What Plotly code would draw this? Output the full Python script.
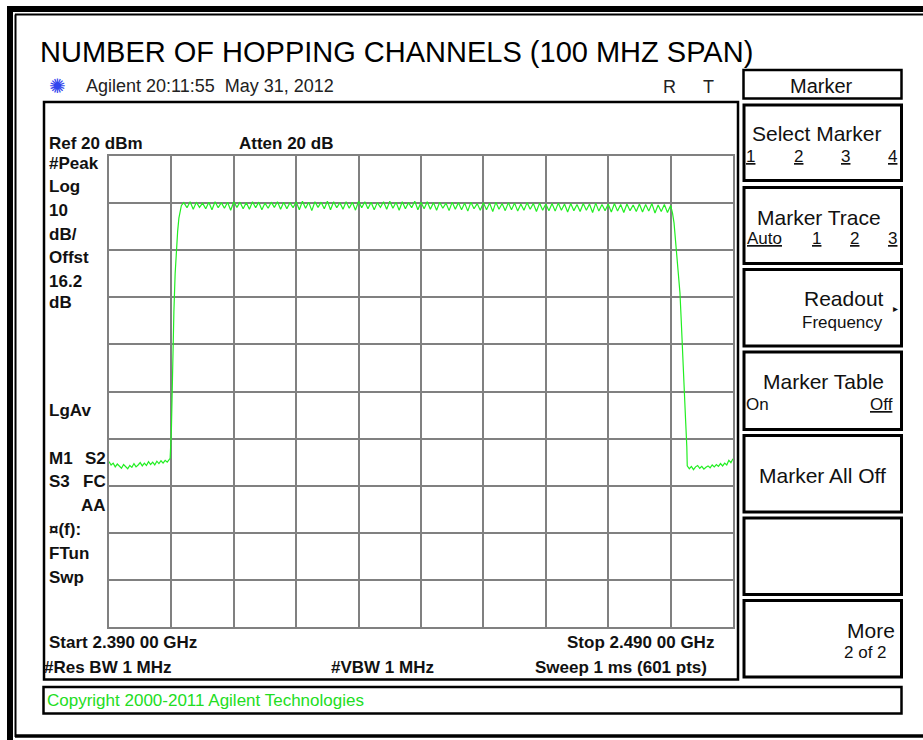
import plotly.graph_objects as go

# ---------------- data ----------------
sweep_start_mhz = 2390.0
sweep_stop_mhz = 2490.0
sweep_points = 601
ref_level_dbm = 20
db_per_div = 10

# noise floor left of the band (every 2nd sweep point, starting at point 0)
noise_left_dbm = [-44.9, -45.6, -45.2, -46.0, -45.4, -45.8, -46.3, -45.5, -45.9, -46.4,
                  -45.7, -46.1, -45.3, -46.0, -45.6, -45.1, -45.8, -45.2, -45.7, -44.9,
                  -45.5, -45.0, -45.6, -44.8, -45.3, -44.7, -45.2, -44.6, -45.0, -44.4]

# rising edge
rise_freq_mhz = [2399.8, 2400.0, 2400.2, 2400.4, 2400.6, 2400.8, 2401.0, 2401.2, 2401.4, 2401.6]
rise_dbm = [-44.2, -38.0, -22.0, -13.0, -5.0, 0.5, 4.0, 6.8, 8.6, 9.5]

# hopping channels 2402 ... 2480 MHz : peak levels
channel_first_mhz = 2402
channel_peak_dbm = [10.1, 10.3, 10.2, 10.0, 10.2, 10.3, 10.1, 10.2, 10.3, 10.2,
                    10.1, 10.3, 10.2, 10.0, 10.2, 10.3, 10.2, 10.1, 10.3,
                    10.4, 10.2, 10.3, 10.2, 10.4, 10.3, 10.1, 10.3, 10.2, 10.4,
                    10.3, 10.2, 10.1, 10.3, 10.4, 10.2, 10.3, 10.1, 10.4, 10.2,
                    10.3, 10.1, 10.2, 10.0, 10.2, 10.1, 10.0, 10.2, 9.9, 10.1,
                    10.0, 10.2, 9.9, 10.1, 10.0, 9.8, 10.1, 9.9, 10.0, 9.8,
                    9.9, 10.0, 9.8, 9.9, 9.7, 9.9, 9.8, 10.0, 9.7, 9.8,
                    9.9, 9.7, 9.8, 9.6, 9.8, 9.7, 9.9, 9.6, 9.7, 9.5]
# levels between adjacent channels (2402.5 ... 2479.5 MHz)
channel_gap_dbm = [9.0, 8.7, 9.1, 8.8, 8.6, 9.0, 8.9, 8.5, 9.1, 8.8,
                   8.7, 9.0, 8.6, 8.9, 9.1, 8.7, 8.8, 9.0, 8.6,
                   8.9, 8.4, 9.1, 8.8, 8.6, 9.0, 8.7, 8.9, 8.5, 9.0,
                   8.8, 8.6, 9.1, 8.7, 8.9, 8.5, 8.8, 9.0, 8.6, 8.8,
                   8.7, 8.5, 8.9, 8.4, 8.7, 8.6, 8.3, 8.8, 8.5, 8.6,
                   8.2, 8.7, 8.4, 8.6, 8.3, 8.5, 8.7, 8.2, 8.5, 8.4,
                   8.3, 8.5, 8.1, 8.4, 8.2, 8.5, 8.0, 8.3, 8.4, 8.1,
                   8.3, 8.0, 8.4, 8.2, 8.1, 8.3, 7.9, 8.2, 8.0]

# falling edge
fall_freq_mhz = [2480.3, 2480.55, 2480.85, 2481.2, 2481.5, 2481.7, 2481.9, 2482.2, 2482.4, 2482.6]
fall_dbm = [7.9, 5.8, 0.7, -3.6, -9.1, -14.8, -21.8, -29.0, -36.0, -41.8]

# noise floor right of the band (every 2nd sweep point, starting at point 556)
noise_right_first_point = 556
noise_right_dbm = [-45.8, -46.4, -45.9, -46.6, -46.0, -45.7, -46.3, -45.9, -46.5, -46.1,
                   -45.8, -46.2, -45.6, -46.0, -45.5, -45.9, -45.3, -45.8, -45.2, -45.6,
                   -44.6, -45.1, -44.3]

# ---------------- build the trace ----------------
step = (sweep_stop_mhz - sweep_start_mhz) / (sweep_points - 1)
xs, ys = [], []
for i, v in enumerate(noise_left_dbm):
    xs.append(sweep_start_mhz + 2 * i * step)
    ys.append(v)
xs += rise_freq_mhz
ys += rise_dbm
for k, pk in enumerate(channel_peak_dbm):
    xs.append(channel_first_mhz + k)
    ys.append(pk)
    if k < len(channel_gap_dbm):
        xs.append(channel_first_mhz + k + 0.5)
        ys.append(channel_gap_dbm[k])
xs += fall_freq_mhz
ys += fall_dbm
for i, v in enumerate(noise_right_dbm):
    xs.append(sweep_start_mhz + (noise_right_first_point + 2 * i) * step)
    ys.append(v)

W, H = 923, 740


def px(x):
    return x / W


def py(y):
    return 1 - y / H


fig = go.Figure()
fig.add_trace(go.Scatter(x=xs, y=ys, mode="lines",
                         line=dict(color="#22ee22", width=1.2), hoverinfo="skip"))

GRID = "#808080"
fig.update_layout(
    width=W, height=H,
    margin=dict(l=0, r=0, t=0, b=0),
    paper_bgcolor="white", plot_bgcolor="white",
    showlegend=False,
    xaxis=dict(domain=[px(109), px(733)], range=[sweep_start_mhz, sweep_stop_mhz],
               dtick=10, tick0=sweep_start_mhz, showticklabels=False, ticks="",
               showgrid=True, gridcolor=GRID, gridwidth=2, zeroline=False,
               showline=True, linecolor=GRID, linewidth=2, mirror=True, fixedrange=True),
    yaxis=dict(domain=[py(627), py(156)],
               range=[ref_level_dbm - 10 * db_per_div, ref_level_dbm],
               dtick=db_per_div, tick0=ref_level_dbm, showticklabels=False, ticks="",
               showgrid=True, gridcolor=GRID, gridwidth=2, zeroline=False,
               showline=True, linecolor=GRID, linewidth=2, mirror=True, fixedrange=True),
)

shapes = []


def line(x0, y0, x1, y1, w, color="black"):
    shapes.append(dict(type="line", xref="paper", yref="paper",
                       x0=px(x0), y0=py(y0), x1=px(x1), y1=py(y1),
                       line=dict(color=color, width=w)))


def rect(x0, y0, x1, y1, w, color="black"):
    shapes.append(dict(type="rect", xref="paper", yref="paper",
                       x0=px(x0), y0=py(y0), x1=px(x1), y1=py(y1),
                       line=dict(color=color, width=w)))


# outer frame
line(10, 6, 10, 740, 6)
line(7, 9, 923, 9, 6)
line(15.5, 14.5, 15.5, 737, 2)
line(15, 14.5, 923, 14.5, 2)
line(15, 736, 923, 736, 3.5)

# main display box and copyright box
rect(44, 102, 738, 679.5, 2.5)
rect(43.5, 687, 901.5, 713.5, 2.5)

# softkey boxes
rect(743.5, 70, 901.5, 98.5, 2.5)
tops = [105, 187.5, 269.5, 352, 435.5, 518, 600.5]
bots = [180.5, 263.5, 346, 429.5, 512, 594.5, 677]
for t, b in zip(tops, bots):
    rect(744, t, 901.5, b, 3)

fig.update_layout(shapes=shapes)

ann = []
FONT = "Liberation Sans, Arial, sans-serif"


def text(s, x, y, size, anchor="left", bold=False, color="#111111", under=False, family=FONT):
    f = dict(family=family, size=size, color=color)
    if bold:
        f["weight"] = "bold"
    if under:
        f["lineposition"] = "under"
    ann.append(dict(text=s, x=px(x), y=py(y), xref="paper", yref="paper",
                    xanchor=anchor, yanchor="middle", showarrow=False, font=f,
                    borderpad=0))


# title line
text("NUMBER OF HOPPING CHANNELS (100 MHZ SPAN)", 39, 52, 29, color="black")
text("✺", 58, 86, 20, anchor="center", color="#3344ee", family="DejaVu Sans")
text("Agilent 20:11:55  May 31, 2012", 85, 86, 18, color="#222222")
text("R", 669, 87, 18, anchor="center", color="#222222")
text("T", 708.5, 87, 18, anchor="center", color="#222222")

# left bold status labels
text("Ref 20 dBm", 48, 143, 17, bold=True)
text("Atten 20 dB", 238, 143, 17, bold=True)
for s, y in [("#Peak", 164), ("Log", 187), ("10", 211), ("dB/", 234), ("Offst", 257),
             ("16.2", 281), ("dB", 303), ("LgAv", 410), ("M1", 458), ("S3", 481),
             ("¤(f):", 529), ("FTun", 553), ("Swp", 577)]:
    text(s, 48, y, 17, bold=True)
text("S2", 107, 458, 17, anchor="right", bold=True)
text("FC", 107, 481, 17, anchor="right", bold=True)
text("AA", 107, 505, 17, anchor="right", bold=True)

# bottom labels
text("Start 2.390 00 GHz", 48, 642, 17, bold=True)
text("Stop 2.490 00 GHz", 715, 642, 17, anchor="right", bold=True)
text("#Res BW 1 MHz", 43, 667, 17, bold=True)
text("#VBW 1 MHz", 330, 667, 17, bold=True)
text("Sweep 1 ms (601 pts)", 708, 667, 17, anchor="right", bold=True)
text("Copyright 2000-2011 Agilent Technologies", 46, 700, 17, color="#22dd22")

# softkeys
text("Marker", 821, 86, 20, anchor="center")
text("Select Marker", 817, 133, 21, anchor="center")
for s, x in [("1", 750), ("2", 798), ("3", 845), ("4", 892)]:
    text(s, x, 156, 17, anchor="center", under=True)
text("Marker Trace", 819, 217, 21, anchor="center")
for s, x in [("Auto", 764), ("1", 816), ("2", 854), ("3", 892)]:
    text(s, x, 239, 17, anchor="center", under=True)
text("Readout", 885, 298, 21, anchor="right")
text("▸", 895, 308, 10, anchor="center", family="DejaVu Sans")
text("Frequency", 884, 322, 17, anchor="right")
text("Marker Table", 823, 382, 21, anchor="center")
text("On", 745, 405, 17)
text("Off", 894, 405, 17, anchor="right", under=True)
text("Marker All Off", 822, 475, 21, anchor="center")
text("More", 896, 630, 21, anchor="right")
text("2 of 2", 865, 652, 17, anchor="center")

fig.update_layout(annotations=ann)
fig.write_html("out.html", config={"displayModeBar": False},
               post_script="document.body.style.margin='0';document.body.style.overflow='hidden';")
